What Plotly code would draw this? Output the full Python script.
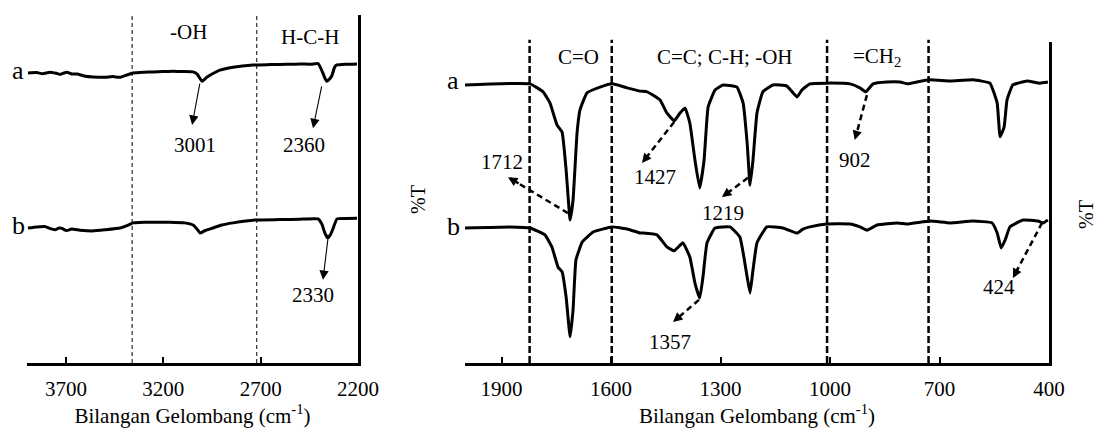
import plotly.graph_objects as go

# ---------------- data (wavenumber cm-1, relative %T) ----------------
# Left panel, 3900-2200 cm-1
wn_left_a = [3895, 3850, 3820, 3782, 3750, 3730, 3710, 3695, 3670, 3643, 3600, 3561, 3500, 3460,
             3422, 3390, 3356, 3300, 3253, 3200, 3150, 3100, 3047, 3025, 3001, 2975, 2940, 2909,
             2842, 2739, 2650, 2560, 2498, 2440, 2405, 2385, 2370, 2360, 2345, 2334, 2320, 2308,
             2260, 2205]
t_left_a = [79.9, 80.0, 79.7, 80.1, 79.8, 79.5, 79.9, 80.1, 79.6, 79.6, 79.0, 78.8, 78.7, 78.9,
            78.7, 79.3, 79.9, 80.1, 80.2, 80.3, 80.4, 80.3, 80.2, 79.5, 77.6, 78.8, 79.9, 80.7,
            81.5, 82.1, 82.2, 82.3, 82.4, 82.3, 82.5, 80.5, 78.5, 77.6, 78.3, 79.2, 81.5, 82.1,
            82.3, 82.4]

wn_left_b = [3895, 3850, 3808, 3780, 3756, 3735, 3720, 3705, 3695, 3670, 3628, 3560, 3500, 3422,
             3380, 3356, 3300, 3240, 3166, 3090, 3047, 3025, 3011, 2985, 2945, 2900, 2842, 2729,
             2600, 2500, 2405, 2385, 2370, 2355, 2340, 2325, 2308, 2260, 2205]
t_left_b = [37.2, 37.5, 37.6, 37.0, 36.7, 37.2, 37.1, 36.6, 36.5, 36.9, 36.6, 36.4, 36.7, 37.2,
            38.0, 38.6, 38.8, 38.8, 38.8, 38.6, 38.0, 36.8, 35.8, 36.5, 37.2, 38.0, 38.6, 39.4,
            39.5, 39.6, 39.7, 38.2, 35.8, 34.4, 35.5, 37.5, 39.7, 39.8, 39.9]

# Right panel, 2000-400 cm-1
wn_right_a = [2000, 1822, 1786, 1767, 1748, 1734, 1723, 1712, 1704, 1693, 1685, 1666, 1630, 1597,
              1556, 1520, 1501, 1466, 1447, 1427, 1411, 1397, 1384, 1370, 1357, 1345, 1334, 1315,
              1293, 1255, 1238, 1227, 1219, 1211, 1200, 1184, 1156, 1118, 1101, 1090, 1077, 1055,
              1008, 945, 918, 902, 882, 844, 808, 786, 762, 726, 671, 608, 562, 542, 534, 523, 515,
              499, 460, 425, 403]
t_right_a = [76.6, 76.9, 74.7, 71.6, 65.6, 63.6, 53.2, 39.4, 44.9, 63.4, 69.7, 74.4, 76.0, 76.9,
             75.8, 74.9, 74.7, 72.5, 68.9, 66.7, 68.9, 70.2, 66.1, 55.9, 48.2, 55.9, 70.5, 75.2,
             76.6, 76.0, 71.6, 60.6, 49.0, 55.9, 68.9, 74.7, 76.6, 76.3, 74.4, 73.3, 75.2, 76.9,
             77.1, 76.9, 75.8, 74.7, 76.9, 77.4, 77.4, 76.9, 77.4, 78.0, 77.7, 78.0, 77.1, 71.6,
             62.3, 65.0, 72.5, 76.6, 77.7, 77.1, 77.4]

wn_right_b = [2000, 1877, 1822, 1781, 1762, 1745, 1734, 1723, 1712, 1704, 1696, 1679, 1649, 1597,
              1556, 1520, 1512, 1474, 1447, 1427, 1403, 1384, 1370, 1357, 1348, 1337, 1315, 1274,
              1247, 1227, 1219, 1211, 1200, 1173, 1129, 1090, 1074, 1055, 1008, 945, 918, 899, 871,
              816, 786, 726, 671, 608, 556, 542, 531, 520, 507, 471, 430, 416, 403]
t_right_b = [37.2, 37.5, 37.2, 35.3, 32.0, 26.4, 25.1, 18.2, 7.2, 14.6, 28.4, 33.3, 36.1, 37.5,
             36.9, 35.8, 35.8, 35.3, 32.0, 30.9, 33.1, 29.2, 22.0, 17.9, 23.7, 33.1, 37.2, 37.5,
             34.7, 23.7, 19.3, 25.6, 33.1, 37.5, 37.2, 35.8, 36.9, 37.5, 38.3, 38.3, 37.5, 36.6,
             38.0, 38.6, 38.3, 39.1, 38.6, 39.1, 38.6, 35.8, 31.7, 33.9, 37.5, 39.4, 39.1, 38.6,
             39.4]

left_ticks = [3700, 3200, 2700, 2200]
right_ticks = [1900, 1600, 1300, 1000, 700, 400]
left_regions = [3360, 2720]              # dashed separators, left panel
right_regions = [1823, 1598, 1008, 730]  # dashed separators, right panel

# ---------------- layout constants ----------------
FONT = "Liberation Serif"
FS = 21
W, H = 1101, 430
LEFT_RANGE = [3900, 2200]
RIGHT_RANGE = [2000, 400]
Y_LEFT_RANGE = [0, 95.87]
Y_RIGHT_RANGE = [0, 88.43]
LINE_W = 3
SPLINE = dict(shape="spline", smoothing=0.35)

fig = go.Figure()
for wn, t in [(wn_left_a, t_left_a), (wn_left_b, t_left_b)]:
    fig.add_trace(go.Scatter(x=wn, y=t, mode="lines", xaxis="x", yaxis="y",
                             line=dict(color="black", width=LINE_W, **SPLINE),
                             hoverinfo="skip", showlegend=False))
for wn, t in [(wn_right_a, t_right_a), (wn_right_b, t_right_b)]:
    fig.add_trace(go.Scatter(x=wn, y=t, mode="lines", xaxis="x2", yaxis="y2",
                             line=dict(color="black", width=LINE_W, **SPLINE),
                             hoverinfo="skip", showlegend=False))

axis_common = dict(showline=True, linecolor="black", linewidth=2.5, ticks="inside", ticklen=6,
                   tickwidth=2, tickcolor="black", showgrid=False, zeroline=False,
                   automargin=False, ticklabelstandoff=5,
                   tickfont=dict(family=FONT, size=FS, color="black"),
                   title_font=dict(family=FONT, size=FS, color="black"))
yaxis_common = dict(showline=True, linecolor="black", linewidth=2.5, side="right", ticks="",
                    showticklabels=False, showgrid=False, zeroline=False, automargin=False)

fig.update_layout(
    width=W, height=H, margin=dict(l=0, r=0, t=0, b=0, autoexpand=False),
    paper_bgcolor="white", plot_bgcolor="white",
    font=dict(family=FONT, color="black"),
    xaxis=dict(domain=[27 / W, 358 / W], range=LEFT_RANGE, tickvals=left_ticks, anchor="y",
               title=dict(text="Bilangan Gelombang (cm<sup>-1</sup>)", standoff=5), **axis_common),
    xaxis2=dict(domain=[465 / W, 1049 / W], range=RIGHT_RANGE, tickvals=right_ticks, anchor="y2",
                title=dict(text="Bilangan Gelombang (cm<sup>-1</sup>)", standoff=5), **axis_common),
    yaxis=dict(domain=[67 / H, 1 - 15 / H], range=Y_LEFT_RANGE, anchor="x", **yaxis_common),
    yaxis2=dict(domain=[67 / H, 1 - 42 / H], range=Y_RIGHT_RANGE, anchor="x2", **yaxis_common),
)

shapes = []
for xv in left_regions:
    shapes.append(dict(type="line", xref="x", yref="y domain", x0=xv, x1=xv, y0=0, y1=1,
                       line=dict(color="black", width=1, dash="4px,3px"), layer="below"))
for xv in right_regions:
    shapes.append(dict(type="line", xref="x2", yref="y2 domain", x0=xv, x1=xv, y0=0, y1=1.007,
                       line=dict(color="black", width=2.5, dash="7px,3px"), layer="below"))

annotations = []


def txt(x, y, s, xref, yref, size=FS, **kw):
    annotations.append(dict(x=x, y=y, xref=xref, yref=yref, text=s, showarrow=False,
                            xanchor="center", yanchor="middle",
                            font=dict(family=FONT, size=size, color="black"), **kw))


# left panel: thin solid arrows (tail at peak, head near label)
left_arrows = [  # (label, tail_x, tail_y, head_x, head_y, label_x, label_y)
    ("3001", 3011, 77.4, 3052, 65.6, 3037, 60.1),
    ("2360", 2385, 76.6, 2431, 64.7, 2477, 60.1),
    ("2330", 2354, 34.4, 2380, 22.9, 2431, 18.7),
]
for lab, tx, ty, hx, hy, lx, ly in left_arrows:
    annotations.append(dict(x=hx, y=hy, ax=tx, ay=ty, xref="x", yref="y", axref="x", ayref="y",
                            text="", showarrow=True, arrowhead=2, arrowwidth=1.1, arrowsize=1.7,
                            arrowcolor="black", standoff=0))
    txt(lx, ly, lab, "x", "y")

# right panel: thick dashed arrows
right_arrows = [
    ("1712", 1718, 41.3, 1882, 51.2, 1899, 55.4),
    ("1427", 1427, 66.4, 1515, 55.1, 1479, 51.2),
    ("1219", 1225, 51.0, 1296, 45.7, 1293, 41.3),
    ("1357", 1359, 17.4, 1430, 11.3, 1438, 5.8),
    ("902", 899, 73.8, 932, 61.4, 932, 55.9),
    ("424", 419, 38.6, 499, 23.4, 537, 20.9),
]
for lab, tx, ty, hx, hy, lx, ly in right_arrows:
    shapes.append(dict(type="line", xref="x2", yref="y2", x0=tx, y0=ty,
                       x1=hx + 0.15 * (tx - hx), y1=hy + 0.15 * (ty - hy),
                       line=dict(color="black", width=2.5, dash="6px,4px")))
    annotations.append(dict(x=hx, y=hy, ax=hx + 0.2 * (tx - hx), ay=hy + 0.2 * (ty - hy),
                            xref="x2", yref="y2", axref="x2", ayref="y2",
                            text="", showarrow=True, arrowhead=2, arrowwidth=2.5, arrowsize=0.75,
                            arrowcolor="black", standoff=0))
    txt(lx, ly, lab, "x2", "y2")

# region labels
txt(3073, 91.2, "-OH", "x", "y")
txt(2447, 89.8, "H-C-H", "x", "y")
txt(1688, 84.3, "C=O", "x2", "y2")
txt(1288, 84.3, "C=C; C-H; -OH", "x2", "y2")
txt(871, 84.3, "=CH<sub>2</sub>", "x2", "y2")

# spectrum identifiers (placed in paper space, left of each axis start)
txt(18 / W, 1 - 70 / H, "a", "paper", "paper", size=26)
txt(18 / W, 1 - 225 / H, "b", "paper", "paper", size=26)
txt(453 / W, 1 - 80 / H, "a", "paper", "paper", size=26)
txt(453 / W, 1 - 226 / H, "b", "paper", "paper", size=26)

# %T labels
txt(418 / W, 1 - 200 / H, "%T", "paper", "paper", size=20, textangle=-90)
txt(1086 / W, 1 - 215 / H, "%T", "paper", "paper", size=20, textangle=-90)

fig.update_layout(shapes=shapes, annotations=annotations)
fig.write_html("out.html", config={"responsive": False, "displayModeBar": False},
               post_script="document.body.style.margin='0';document.body.style.overflow='hidden';")
